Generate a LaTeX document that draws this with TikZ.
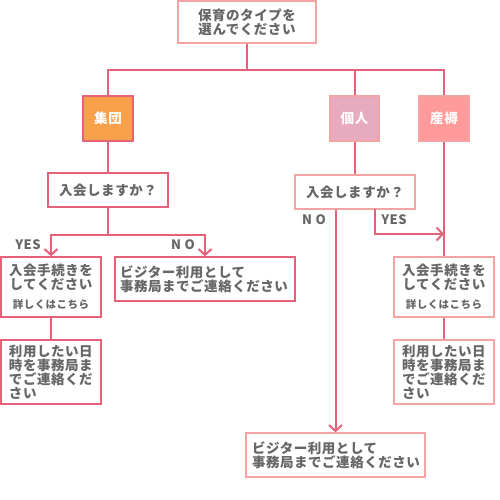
\documentclass[tikz,border=0pt]{standalone}
\usepackage{fontspec}
\setmainfont{Noto Sans CJK JP}[LetterSpace=4]
\usetikzlibrary{arrows.meta}
\definecolor{lnc}{HTML}{E6627A}
\definecolor{lpk}{HTML}{F4A3A3}
\definecolor{txt}{HTML}{666666}
\definecolor{orf}{HTML}{F9A04A}
\definecolor{kjf}{HTML}{E8AABF}
\definecolor{sjf}{HTML}{FF9A9A}
\begin{document}
\begin{tikzpicture}[x=1pt,y=-1pt,
  line/.style={draw=lnc,line width=2pt},
  arr/.style={line,-{Straight Barb[length=6pt,width=13pt,line width=2pt]}},
  box/.style={draw=lpk,line width=1.3pt,fill=white,inner sep=0pt,text=txt,
    font=\fontsize{13.5}{14}\selectfont\bfseries},
  dbox/.style={box,draw=lnc},
  cat/.style={box,text=white,minimum width=50pt,minimum height=45pt},
  lbl/.style={inner sep=0pt,text=txt,font=\fontsize{13}{14}\selectfont\bfseries}]
\useasboundingbox (0,0) rectangle (500,500);
% boxes
\node[box,minimum width=138pt,minimum height=42pt,align=center] (top) at (247,22) {保育のタイプを\\選んでください};
\node[cat,fill=orf,draw=lnc] (shudan) at (108,118.5) {集団};
\node[cat,fill=kjf,minimum width=49pt] (kojin) at (354.5,118.5) {個人};
\node[cat,fill=sjf] (sanjoku) at (444,118.5) {産褥};
\node[dbox,minimum width=120pt,minimum height=34pt] (q1) at (108,190) {入会しますか？};
\node[box,minimum width=120pt,minimum height=34pt] (q2) at (355,192) {入会しますか？};
\node[dbox,minimum width=100pt,minimum height=60pt,align=center] (L1) at (51,287)
  {入会手続きを\\してください\\[5pt]{\fontsize{10.5}{11}\selectfont 詳しくはこちら}};
\node[dbox,minimum width=100pt,minimum height=64pt,text width=84pt,align=left] (L2) at (51,372)
  {\fontsize{13.5}{12.8}\selectfont 利用したい日\\時を事務局ま\\でご連絡くだ\\さい};
\node[dbox,minimum width=180pt,minimum height=44pt,text width=170pt,align=left] (Lv) at (205,279)
  {ビジター利用として\\事務局までご連絡ください};
\node[box,minimum width=100pt,minimum height=60pt,align=center] (R1) at (444,287)
  {入会手続きを\\してください\\[5pt]{\fontsize{10.5}{11}\selectfont 詳しくはこちら}};
\node[box,minimum width=100pt,minimum height=64pt,text width=84pt,align=left] (R2) at (444,372)
  {\fontsize{13.5}{12.8}\selectfont 利用したい日\\時を事務局ま\\でご連絡くだ\\さい};
\node[box,minimum width=179pt,minimum height=44pt,text width=167pt,align=left] (B) at (335.5,455)
  {ビジター利用として\\事務局までご連絡ください};
% coordinates
\coordinate (j0) at (247,70);
\coordinate (jr) at (444,70);
\coordinate (lb) at (108,235);
\coordinate (ry) at (444,234);
\coordinate (ys) at (375,209);
% connectors
\draw[line] (top.south) -- (j0);
\draw[line] (shudan.north) -- (shudan.north |- j0) -- (jr) -- (sanjoku.north);
\draw[line] (kojin.north) -- (kojin.north |- j0);
\draw[line] (shudan.south) -- (q1.north);
\draw[line] (kojin.south) -- (kojin.south |- q2.north);
\draw[line] (q1.south) -- (lb);
\draw[arr] (lb) -| (L1.north);
\draw[arr] (lb) -| (Lv.north);
\draw[line] (L1.south) -- (L2.north);
\draw[line] (sanjoku.south) -- (R1.north);
\draw[line] (R1.south) -- (R2.north);
\draw[arr] (B.north |- q2.south) -- (B.north);
\draw[arr] (ys) |- (ry);
% labels
\node[lbl] (ly1) at (28,245) {YES};
\node[lbl] (ln1) at (183,245) {N O};
\node[lbl] (ln2) at (314,220) {N O};
\node[lbl] (ly2) at (394,220) {YES};
\end{tikzpicture}
\end{document}
